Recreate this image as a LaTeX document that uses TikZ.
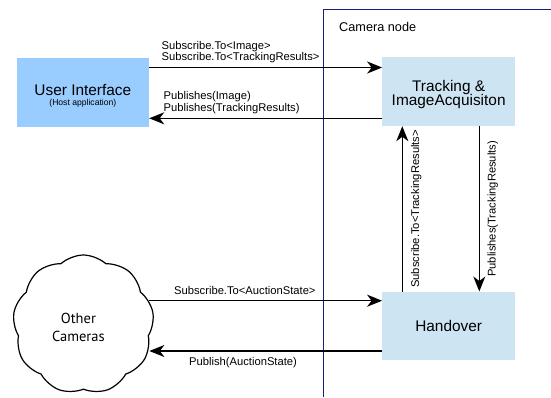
\documentclass[tikz,border=0pt]{standalone}
\usepackage{fontspec}
\setmainfont{Liberation Sans}
\newfontfamily\cloudfont{PT Sans}
\usetikzlibrary{shapes.symbols,arrows.meta,calc}
\definecolor{uiblue}{RGB}{153,204,255}
\definecolor{paleblue}{RGB}{205,229,243}
\definecolor{framenavy}{RGB}{25,30,120}
\tikzset{
  boxnode/.style={rectangle, draw=none, inner sep=0pt},
  arr/.style={line width=1.5pt, -{Stealth[length=15pt,width=12pt,inset=4.5pt]}},
  lbl/.style={font=\fontsize{11.2}{12}\selectfont, inner sep=0pt},
  bigtext/.style={font=\fontsize{15.4}{15.5}\selectfont, align=center, inner sep=0pt},
  cloudtext/.style={font=\cloudfont\fontsize{14.5}{18}\selectfont, align=center, inner sep=0pt},
  framestyle/.style={draw=framenavy, line width=1pt},
}
\begin{document}
\begin{tikzpicture}[x=1pt,y=-1pt]
\useasboundingbox[fill=white] (0,0) rectangle (551,397);

% camera node frame
\draw[framestyle] (323.3,397) -- (323.3,9.3) -- (551,9.3);
\node[lbl, font=\fontsize{12.7}{14}\selectfont, anchor=west] (camlbl) at (339,26.7) {Camera node};

% boxes
\node[boxnode, fill=uiblue, minimum width=132.3pt, minimum height=69pt,
  label={[bigtext, yshift=-3pt]center:{User Interface\\[-5.5pt]{\fontsize{8.6}{9}\selectfont (Host application)}}}]
  (ui) at (82.85,92.5) {};
\node[boxnode, fill=paleblue, minimum width=132.7pt, minimum height=68.7pt,
  label={[bigtext, yshift=-2.5pt]center:{Tracking \&\\[-1.5pt]ImageAcquisiton}}]
  (track) at (448.65,91.65) {};
\node[boxnode, fill=paleblue, minimum width=132.7pt, minimum height=68.3pt, bigtext]
  (hand) at (448.65,325.85) {Handover};

% cloud
\node[cloud, draw, line width=1.2pt, cloud puffs=9, cloud puff arc=85, aspect=1,
  cloud ignores aspect, minimum width=141pt, minimum height=139pt, inner sep=0pt,
  label={[cloudtext, xshift=-5pt, yshift=-2.5pt]center:{Other\\Cameras}}]
  (cloud) at (83.4,324.5) {};

% horizontal connectors
\draw[arr] ($(cloud.east |- 0,300.7)+(-4,0)$) -- (hand.west |- 0,300.7);
\draw[arr] (hand.west |- 0,351) -- ($(cloud.east |- 0,351)+(-4,0)$);
\draw[arr] (ui.east |- 0,67.5) -- (track.west |- 0,67.5);
\draw[arr] (track.west |- 0,118.3) -- (ui.east |- 0,118.3);

% vertical connectors
\draw[arr] (hand.north -| 402.3,0) -- node[lbl, midway, rotate=90, anchor=north, inner ysep=8pt] (lblup) {Subscribe.To<TrackingResults>} (track.south -| 402.3,0);
\draw[arr] (track.south -| 479.3,0) -- node[lbl, midway, rotate=90, anchor=north, inner ysep=7.5pt] (lbldown) {Publishes(TrackingResults)} (hand.north -| 479.3,0);

% horizontal labels
\node[lbl, anchor=base west] (s1) at (161.5,49.3) {Subscribe.To<Image>};
\node[lbl, anchor=base west] (s2) at (161.5,60) {Subscribe.To<TrackingResults>};
\node[lbl, anchor=base west] (p1) at (163.4,99) {Publishes(Image)};
\node[lbl, anchor=base west] (p2) at (163.4,111.3) {Publishes(TrackingResults)};
\node[lbl, anchor=base west] (sa) at (174,294) {Subscribe.To<AuctionState>};
\node[lbl, anchor=base west] (pa) at (189,365.5) {Publish(AuctionState)};
\end{tikzpicture}
\end{document}
